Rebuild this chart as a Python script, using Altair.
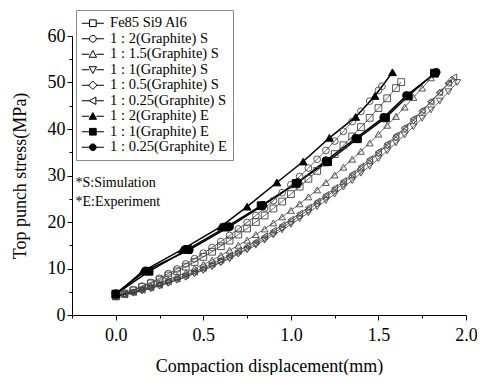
import altair as alt
import pandas as pd

SERIES = ["Fe85 Si9 Al6", "1 : 2(Graphite) S", "1 : 1.5(Graphite) S", "1 : 1(Graphite) S",
          "1 : 0.5(Graphite) S", "1 : 0.25(Graphite) S", "1 : 2(Graphite) E",
          "1 : 1(Graphite) E", "1 : 0.25(Graphite) E"]
SHAPES = ["square", "circle", "triangle-up", "triangle-down", "diamond", "triangle-left",
          "triangle-up", "square", "circle"]

fe_x = [0, .05, .1, .15, .2, .25, .3, .35, .4, .45, .5, .55, .6, .65, .7, .75, .8, .85, .9, .95,
        1.0, 1.05, 1.1, 1.15, 1.2, 1.25, 1.3, 1.35, 1.4, 1.45, 1.5, 1.55, 1.6, 1.63]
fe_y = [4.0, 4.6, 5.3, 6.0, 6.8, 7.6, 8.5, 9.4, 10.4, 11.4, 12.5, 13.6, 14.8, 16.0, 17.3, 18.6,
        20.0, 21.4, 22.9, 24.4, 26.0, 27.6, 29.3, 31.0, 32.8, 34.6, 36.5, 38.4, 40.4, 42.4, 44.5,
        46.6, 48.8, 50.1]

g2s_x = [0, .05, .1, .15, .2, .25, .3, .35, .4, .45, .5, .55, .6, .65, .7, .75, .8, .85, .9, .95,
         1.0, 1.05, 1.1, 1.15, 1.2, 1.25, 1.3, 1.35, 1.4, 1.45, 1.5, 1.52]
g2s_y = [4.0, 4.7, 5.4, 6.2, 7.0, 7.9, 8.9, 9.9, 11.0, 12.1, 13.3, 14.5, 15.8, 17.1, 18.5, 19.9,
         21.4, 23.0, 24.6, 26.3, 28.0, 29.8, 31.6, 33.5, 35.4, 37.4, 39.5, 41.6, 43.8, 46.0, 48.3,
         49.2]

g15s_x = [0, .05, .1, .15, .2, .25, .3, .35, .4, .45, .5, .55, .6, .65, .7, .75, .8, .85, .9, .95,
          1.0, 1.05, 1.1, 1.15, 1.2, 1.25, 1.3, 1.35, 1.4, 1.45, 1.5, 1.55, 1.6, 1.65, 1.7, 1.75, 1.8]
g15s_y = [4.0, 4.5, 5.0, 5.6, 6.2, 6.8, 7.6, 8.3, 9.1, 10.0, 10.9, 11.8, 12.8, 13.9, 15.0, 16.1,
          17.3, 18.5, 19.8, 21.1, 22.5, 23.9, 25.4, 26.9, 28.5, 30.1, 31.8, 33.5, 35.2, 37.0, 38.9,
          40.8, 42.7, 44.7, 46.8, 48.8, 51.0]

g1s_x = [0, .05, .1, .15, .2, .25, .3, .35, .4, .45, .5, .55, .6, .65, .7, .75, .8, .85, .9, .95,
         1.0, 1.05, 1.1, 1.15, 1.2, 1.25, 1.3, 1.35, 1.4, 1.45, 1.5, 1.55, 1.6, 1.65, 1.7, 1.75,
         1.8, 1.85, 1.9, 1.95]
g1s_y = [4.0, 4.4, 4.8, 5.2, 5.7, 6.3, 6.9, 7.5, 8.2, 8.9, 9.6, 10.4, 11.3, 12.1, 13.1, 14.0,
         15.0, 16.1, 17.2, 18.3, 19.5, 20.7, 22.0, 23.3, 24.6, 26.0, 27.5, 28.9, 30.5, 32.0, 33.6,
         35.3, 37.0, 38.7, 40.5, 42.3, 44.1, 46.0, 48.0, 50.0]

g05s_x = [0, .05, .1, .15, .2, .25, .3, .35, .4, .45, .5, .55, .6, .65, .7, .75, .8, .85, .9, .95,
          1.0, 1.05, 1.1, 1.15, 1.2, 1.25, 1.3, 1.35, 1.4, 1.45, 1.5, 1.55, 1.6, 1.65, 1.7, 1.75,
          1.8, 1.85, 1.9, 1.92]
g05s_y = [4.0, 4.4, 4.8, 5.3, 5.8, 6.3, 6.9, 7.6, 8.2, 9.0, 9.8, 10.6, 11.4, 12.4, 13.3, 14.3,
          15.4, 16.5, 17.6, 18.8, 20.0, 21.3, 22.6, 24.0, 25.4, 26.8, 28.3, 29.9, 31.4, 33.1, 34.8,
          36.5, 38.2, 40.1, 41.9, 43.8, 45.8, 47.8, 49.8, 50.6]

g025s_x = [0, .05, .1, .15, .2, .25, .3, .35, .4, .45, .5, .55, .6, .65, .7, .75, .8, .85, .9, .95,
           1.0, 1.05, 1.1, 1.15, 1.2, 1.25, 1.3, 1.35, 1.4, 1.45, 1.5, 1.55, 1.6, 1.65, 1.7, 1.75,
           1.8, 1.85, 1.9, 1.93]
g025s_y = [4.0, 4.4, 4.9, 5.4, 5.9, 6.5, 7.2, 7.8, 8.6, 9.3, 10.1, 11.0, 11.9, 12.8, 13.8, 14.8,
           15.8, 16.9, 18.1, 19.3, 20.5, 21.8, 23.1, 24.4, 25.8, 27.3, 28.8, 30.3, 31.9, 33.5, 35.1,
           36.8, 38.6, 40.3, 42.2, 44.0, 45.9, 47.9, 49.9, 51.1]

g2e_x = [0, 0.154, 0.38, 0.6, 0.75, 0.92, 1.07, 1.22, 1.37, 1.48, 1.58]
g2e_y = [4.5, 9.4, 14.1, 19.0, 23.3, 28.5, 33.0, 38.1, 42.6, 47.1, 52.2]

g1e_x = [0, 0.19, 0.41, 0.63, 0.83, 1.03, 1.21, 1.38, 1.54, 1.67, 1.82]
g1e_y = [4.5, 9.4, 14.1, 18.9, 23.5, 28.3, 33.0, 37.9, 42.4, 47.1, 52.0]

g025e_x = [0, 0.17, 0.42, 0.65, 0.84, 1.04, 1.2, 1.37, 1.53, 1.66, 1.83]
g025e_y = [4.6, 9.5, 14.0, 19.0, 23.6, 28.5, 33.2, 38.0, 42.5, 47.2, 52.2]

XS = [fe_x, g2s_x, g15s_x, g1s_x, g05s_x, g025s_x, g2e_x, g1e_x, g025e_x]
YS = [fe_y, g2s_y, g15s_y, g1s_y, g05s_y, g025s_y, g2e_y, g1e_y, g025e_y]

note_text = ["*S:Simulation", "*E:Experiment"]
note_x = [-0.23, -0.23]
note_y = [28.3, 24.4]

x_major = [0.0, 0.5, 1.0, 1.5, 2.0]
x_minor = [-0.25, 0.25, 0.75, 1.25, 1.75]
y_major = [0, 10, 20, 30, 40, 50, 60]
y_minor = [5, 15, 25, 35, 45, 55]

# legend symbols: marker with a short line on each side ("—□—")
_L = "M-3.3,0H-1.05M1.05,0H3.3"
LEGEND_PATHS = [
    _L + "M-1,-1H1V1H-1Z",
    _L + "M-1,0A1,1 0 1,0 1,0A1,1 0 1,0 -1,0Z",
    _L + "M0,-1.1L1.1,0.9H-1.1Z",
    _L + "M0,1.1L1.1,-0.9H-1.1Z",
    _L + "M0,-1.25L1.25,0L0,1.25L-1.25,0Z",
    _L + "M-1.1,0L0.9,-1.1V1.1Z",
    _L + "M0,-1.1L1.1,0.9H-1.1Z",
    _L + "M-1,-1H1V1H-1Z",
    _L + "M-1,0A1,1 0 1,0 1,0A1,1 0 1,0 -1,0Z",
]

rows = []
for s, xs, ys in zip(SERIES, XS, YS):
    kind = "E" if s.endswith(" E") else "S"
    for i, (a, b) in enumerate(zip(xs, ys)):
        rows.append({"series": s, "x": a, "y": b, "i": i, "kind": kind})
df = pd.DataFrame(rows)

FONT = "Liberation Serif"
xscale = alt.Scale(domain=[-0.25, 2.0], nice=False)
yscale = alt.Scale(domain=[0, 60], nice=False)

fills = ["transparent"] * 6 + ["black"] * 3
strokes = ["#444444"] * 6 + ["black"] * 3

x_axis = alt.Axis(values=x_major, format=".1f", title="Compaction displacement(mm)",
                  grid=False, tickSize=5, domainColor="black", tickColor="black",
                  labelFont=FONT, labelFontSize=18, labelColor="black", labelPadding=6,
                  titleFont=FONT, titleFontSize=18, titleFontWeight="normal", titleColor="black",
                  titlePadding=13, orient="bottom", labelFlush=False)
y_axis = alt.Axis(values=y_major, format="d", title="Top punch stress(MPa)",
                  grid=False, tickSize=5, domainColor="black", tickColor="black",
                  labelFont=FONT, labelFontSize=18, labelColor="black", labelPadding=2,
                  titleFont=FONT, titleFontSize=18, titleFontWeight="normal", titleColor="black",
                  titlePadding=18, orient="left")

base = alt.Chart(df)
X_main = alt.X("x:Q", scale=xscale, axis=x_axis)
Y_main = alt.Y("y:Q", scale=yscale, axis=y_axis)
X_none = alt.X("x:Q", scale=xscale, axis=None)
Y_none = alt.Y("y:Q", scale=yscale, axis=None)

lines_sim = base.transform_filter(alt.datum.kind == "S").mark_line(
    color="black", strokeWidth=0.6).encode(x=X_main, y=Y_main, detail="series:N", order="i:Q")
lines_exp = base.transform_filter(alt.datum.kind == "E").mark_line(
    color="black", strokeWidth=1.5).encode(x=X_none, y=Y_none, detail="series:N", order="i:Q")

shape_enc = alt.Shape("series:N", scale=alt.Scale(domain=SERIES, range=SHAPES), legend=None)
fill_enc = alt.Fill("series:N", scale=alt.Scale(domain=SERIES, range=fills), legend=None)
stroke_enc = alt.Stroke("series:N", scale=alt.Scale(domain=SERIES, range=strokes), legend=None)

points_sim = base.transform_filter(alt.datum.kind == "S").mark_point(
    filled=False, opacity=1, size=46, strokeWidth=0.9).encode(
    x=X_none, y=Y_none, shape=shape_enc, fill=fill_enc, stroke=stroke_enc)
points_exp = base.transform_filter(alt.datum.kind == "E").mark_point(
    filled=False, opacity=1, size=60, strokeWidth=1).encode(
    x=X_none, y=Y_none, shape=shape_enc, fill=fill_enc, stroke=stroke_enc)

legend = alt.Legend(title=None, orient="none", legendX=4, legendY=-26,
                    strokeColor="#888888", padding=6, labelFont=FONT, labelFontSize=14.5,
                    labelColor="black", rowPadding=0.5, symbolSize=45, symbolStrokeWidth=1,
                    symbolOffset=3.6, labelOffset=10)
leg_layer = base.transform_filter("datum.i < 0").mark_point(
    filled=False, opacity=1, size=45, strokeWidth=1).encode(
    x=X_none, y=Y_none,
    shape=alt.Shape("series:N", scale=alt.Scale(domain=SERIES, range=LEGEND_PATHS), legend=legend, sort=SERIES),
    fill=alt.Fill("series:N", scale=alt.Scale(domain=SERIES, range=fills), legend=legend, sort=SERIES),
    stroke=alt.Stroke("series:N", scale=alt.Scale(domain=SERIES, range=["black"] * 9), legend=legend, sort=SERIES),
)

notes_df = pd.DataFrame({"t": note_text, "x": note_x, "y": note_y})
notes = alt.Chart(notes_df).mark_text(align="left", baseline="middle", font=FONT,
                                      fontSize=14, color="black").encode(
    x=X_none, y=Y_none, text="t:N")

minor_df = pd.DataFrame({"x": [x_minor[0]], "y": [y_minor[0]]})
minor = alt.Chart(minor_df).mark_point(opacity=0).encode(
    x=alt.X("x:Q", scale=xscale, axis=alt.Axis(values=x_minor, labels=False, title=None, grid=False,
                                                tickSize=3, domain=False, tickColor="black",
                                                orient="bottom")),
    y=alt.Y("y:Q", scale=yscale, axis=alt.Axis(values=y_minor, labels=False, title=None, grid=False,
                                                tickSize=3, domain=False, tickColor="black",
                                                orient="left")),
)

chart = alt.layer(lines_sim, lines_exp, points_sim, points_exp, leg_layer, notes, minor).resolve_axis(
    x="independent", y="independent").resolve_scale(
    shape="independent", fill="independent", stroke="independent").properties(
    width=394, height=279,
    autosize=alt.AutoSizeParams(type="none"),
    padding={"left": 64, "top": 28, "right": 11, "bottom": 60},
    background="white",
).configure_view(stroke=None)

chart.save("out.html", embed_options={"renderer": "svg", "actions": False})
